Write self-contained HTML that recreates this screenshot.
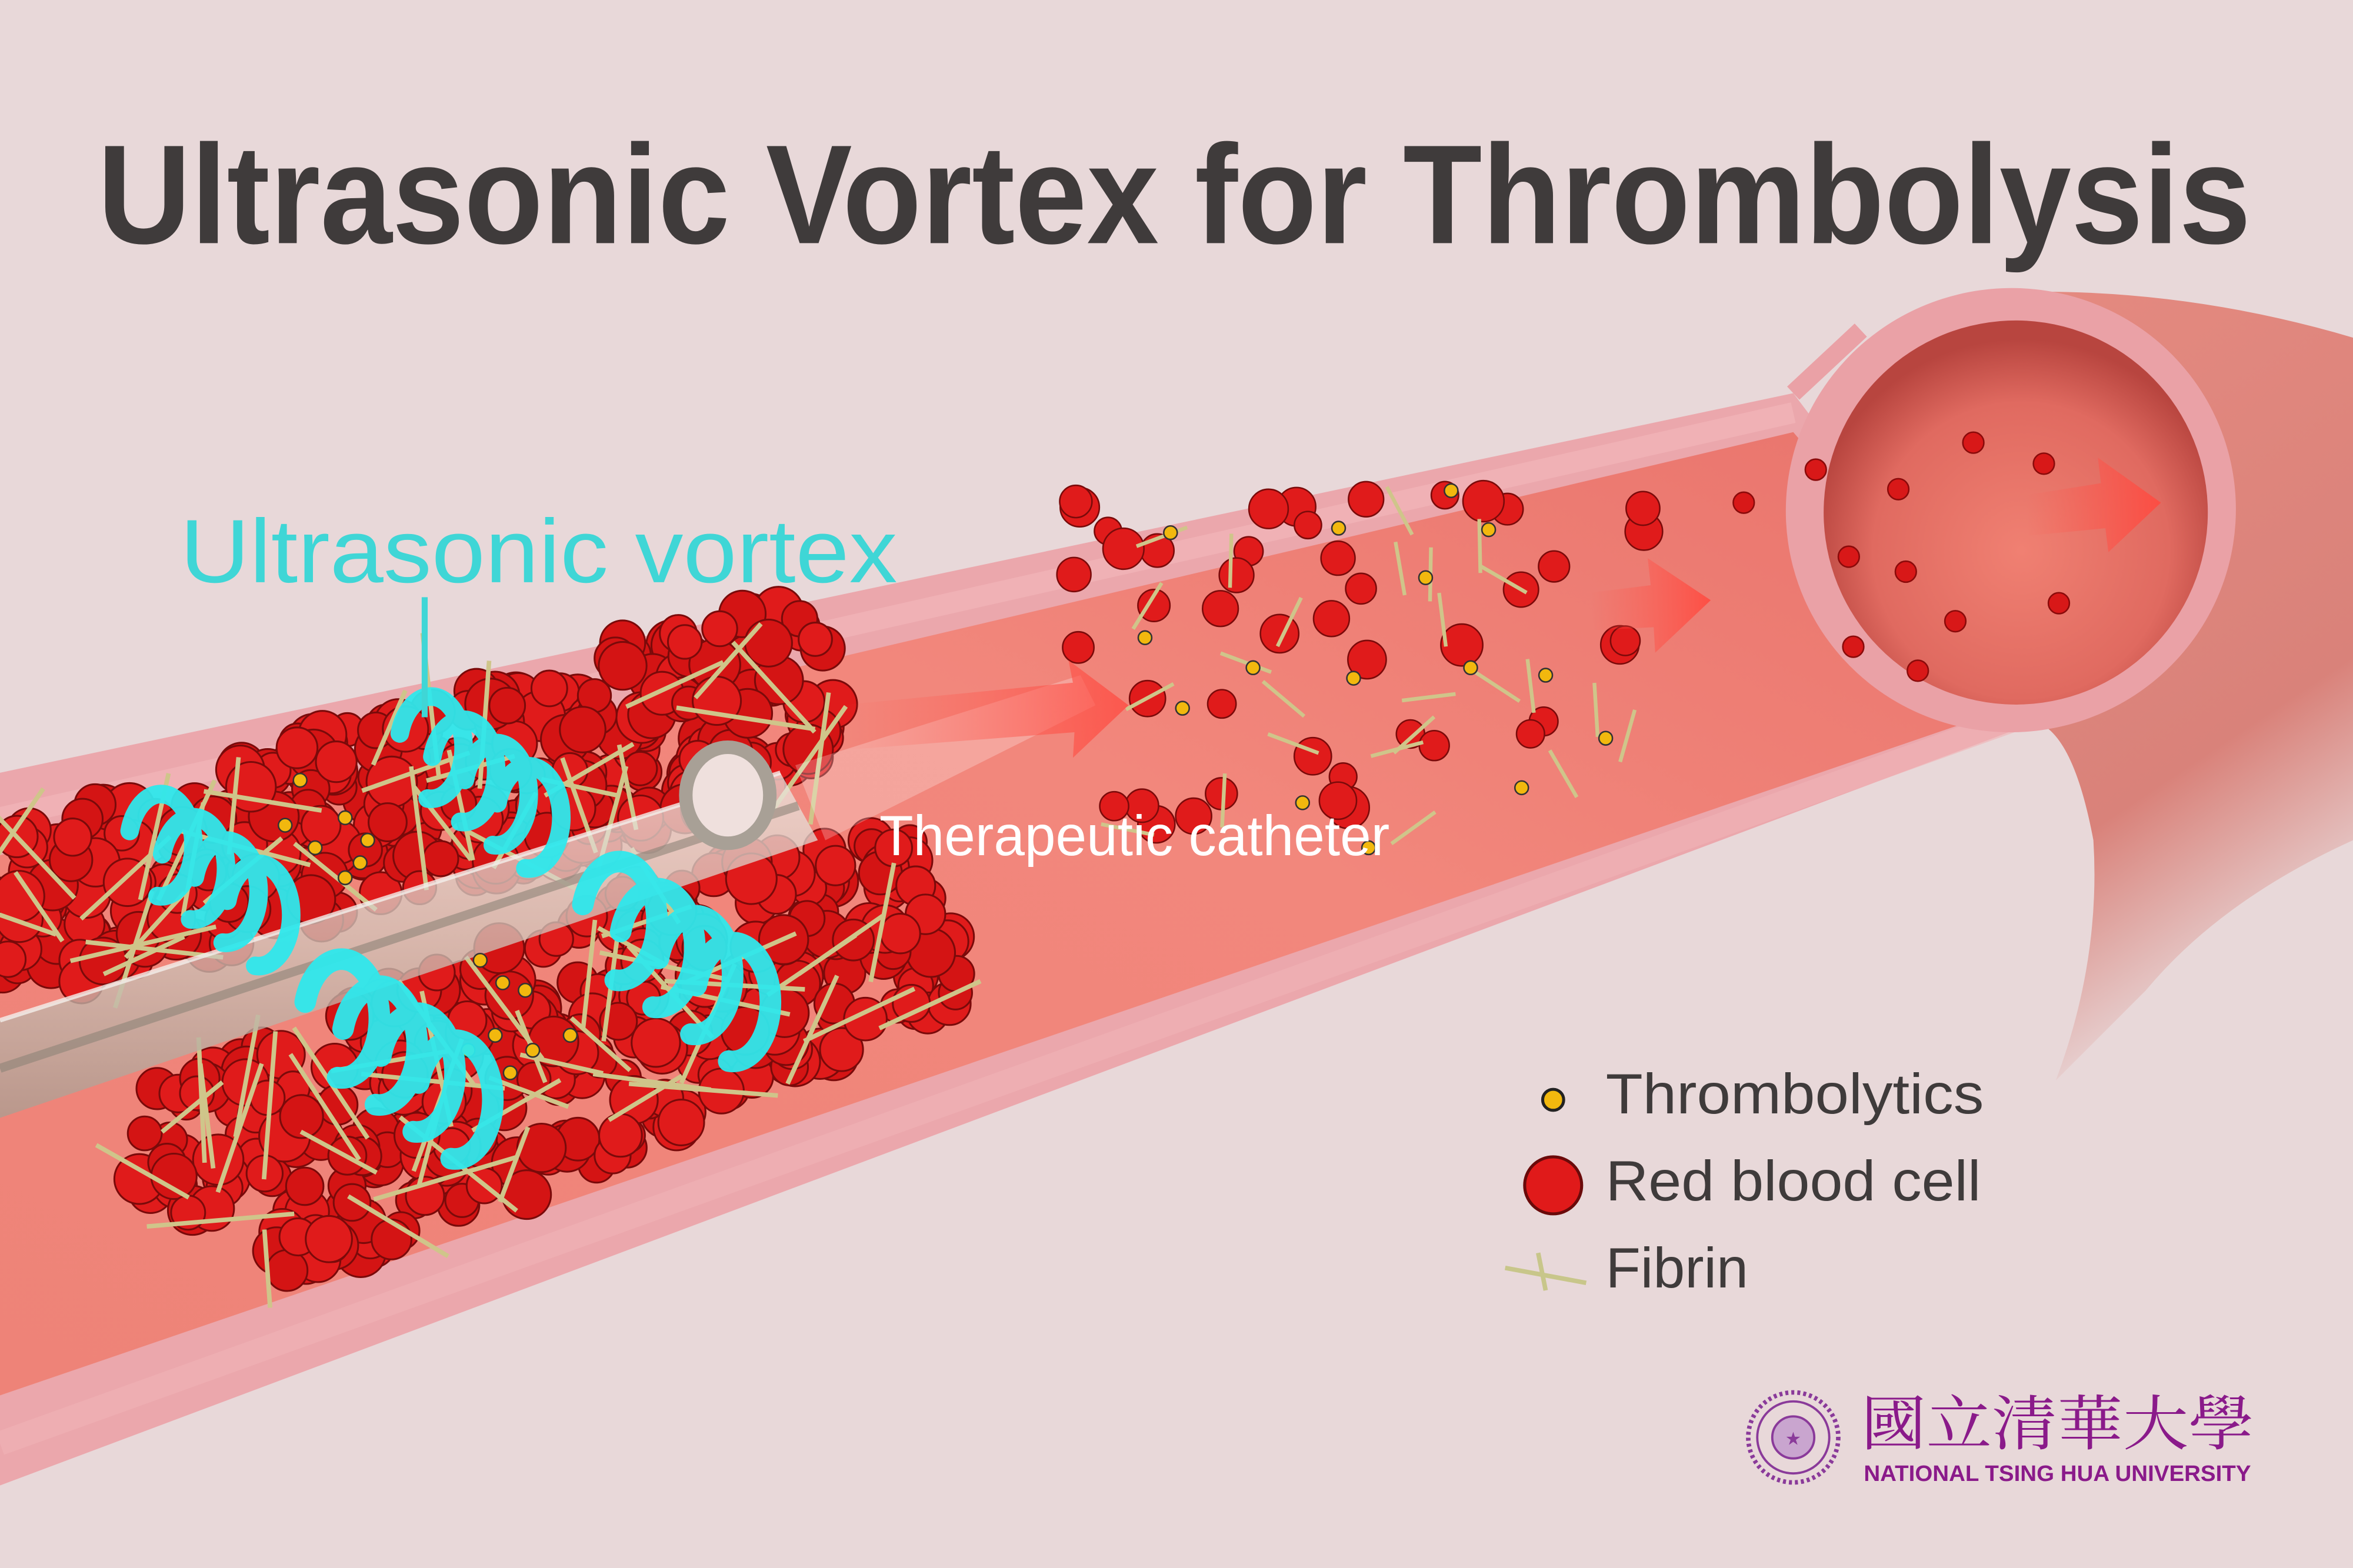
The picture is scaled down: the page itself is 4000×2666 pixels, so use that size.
<!DOCTYPE html>
<html><head><meta charset="utf-8"><style>
html,body{margin:0;padding:0;background:#e8d8d9;}
svg{display:block;}
</style></head><body>
<svg id="s" width="4000" height="2666" viewBox="0 0 1568 1045" xmlns="http://www.w3.org/2000/svg">
<defs>
<linearGradient id="lum" x1="0" y1="1" x2="1" y2="0">
<stop offset="0" stop-color="#ee8378"/><stop offset="0.6" stop-color="#f2877c"/><stop offset="1" stop-color="#e9746c"/>
</linearGradient>
<linearGradient id="bend" x1="0" y1="0" x2="0.3" y2="1">
<stop offset="0" stop-color="#e58a80"/><stop offset="0.7" stop-color="#d9827a"/><stop offset="1" stop-color="#e8d8d9"/>
</linearGradient>
<radialGradient id="hole" cx="0.5" cy="0.6" r="0.55">
<stop offset="0" stop-color="#f08072"/><stop offset="0.7" stop-color="#e06a60"/><stop offset="1" stop-color="#b8453f"/>
</radialGradient>
<linearGradient id="arr" x1="0" y1="0" x2="1" y2="0">
<stop offset="0" stop-color="#ff5b50" stop-opacity="0"/><stop offset="1" stop-color="#ff4a40" stop-opacity="0.9"/>
</linearGradient>
<linearGradient id="cath" x1="0" y1="0" x2="0" y2="1">
<stop offset="0" stop-color="#eee8e2"/><stop offset="0.5" stop-color="#cfc6bb"/><stop offset="1" stop-color="#a89e92"/>
</linearGradient>
</defs>
<rect width="1568" height="1045" fill="#e8d8d9"/>
<!-- bend continuation -->
<path d="M1330,195 Q1450,190 1568,225 L1568,560 Q1480,600 1430,660 L1370,720 Q1400,640 1395,560 Q1380,480 1350,480 Z" fill="url(#bend)"/>
<!-- outer wall -->
<path d="M0,515 L1195,262 L1360,480 L0,990 Z" fill="#eba7ac"/>
<!-- lumen -->
<path d="M0,570 L1195,288 L1350,468 L0,930 Z" fill="url(#lum)"/>
<path d="M0,545 L1195,275" stroke="#f4b9bc" stroke-width="14" opacity="0.6"/>
<path d="M0,962 L1355,475" stroke="#f1b3b6" stroke-width="16" opacity="0.6"/>
<!-- opening ring -->
<ellipse cx="1340" cy="340" rx="150" ry="148" fill="#eaa1a6" transform="rotate(-8 1340 340)"/>
<ellipse cx="1343" cy="342" rx="128" ry="128" fill="url(#hole)" transform="rotate(-8 1340 340)"/>
<path d="M1195,262 L1240,220" stroke="#eaa1a6" stroke-width="12"/>
<g id="content"></g>
<!-- arrows -->
<path d="M560,470 L715,455 L712,440 L752,470 L715,505 L716,488 L560,500 Z" fill="url(#arr)" opacity="0.85"/>
<path d="M1060,395 L1100,390 L1098,372 L1140,400 L1103,435 L1102,418 L1062,420 Z" fill="url(#arr)"/>
<path d="M1350,330 L1400,322 L1398,305 L1440,335 L1405,368 L1403,352 L1352,357 Z" fill="url(#arr)"/>
<!-- title -->
<text x="65" y="162" font-family="Liberation Sans, sans-serif" font-weight="bold" font-size="94" fill="#3f3b3b" textLength="1435" lengthAdjust="spacingAndGlyphs">Ultrasonic Vortex for Thrombolysis</text>
<text x="120" y="388" font-family="Liberation Sans, sans-serif" font-size="60" fill="#3fd6d6" textLength="478" lengthAdjust="spacingAndGlyphs">Ultrasonic vortex</text>
<line x1="283" y1="398" x2="283" y2="478" stroke="#3fd6d6" stroke-width="4"/>
<text x="586" y="570" font-family="Liberation Sans, sans-serif" font-size="38" fill="#fff" textLength="340" lengthAdjust="spacingAndGlyphs">Therapeutic catheter</text>
<!-- legend -->
<circle cx="1035" cy="733" r="7" fill="#f2b80e" stroke="#222" stroke-width="2"/>
<text x="1070" y="742" font-family="Liberation Sans, sans-serif" font-size="38" fill="#3f3b3b" textLength="252" lengthAdjust="spacingAndGlyphs">Thrombolytics</text>
<circle cx="1035" cy="790" r="19" fill="#e01a1a" stroke="#6a0a0a" stroke-width="2"/>
<text x="1070" y="800" font-family="Liberation Sans, sans-serif" font-size="38" fill="#3f3b3b" textLength="250" lengthAdjust="spacingAndGlyphs">Red blood cell</text>
<path d="M1003,845 L1057,855 M1025,835 L1030,860" stroke="#c8c68a" stroke-width="3"/>
<text x="1070" y="858" font-family="Liberation Sans, sans-serif" font-size="38" fill="#3f3b3b">Fibrin</text>
<!-- logo -->
<circle cx="1195" cy="958" r="30" fill="none" stroke="#8a3a9a" stroke-width="3" stroke-dasharray="2 2"/>
<circle cx="1195" cy="958" r="24" fill="none" stroke="#8a3a9a" stroke-width="1.5"/>
<circle cx="1195" cy="958" r="14" fill="#c9a5cf" stroke="#8a3a9a" stroke-width="1.5"/>
<text x="1195" y="963" text-anchor="middle" font-size="12" fill="#8a3a9a">★</text>
<text x="1240" y="963" font-family="Noto Serif CJK SC, serif" font-size="40" fill="#8a1a8a" textLength="262" lengthAdjust="spacingAndGlyphs">國立清華大學</text>
<text x="1242" y="987" font-family="Liberation Sans, sans-serif" font-weight="bold" font-size="15" fill="#8a1a8a" textLength="258" lengthAdjust="spacingAndGlyphs">NATIONAL TSING HUA UNIVERSITY</text>
</svg>
<script>
var g=document.getElementById('content'),NS='http://www.w3.org/2000/svg';
var seed=7;function r(){seed=(seed*16807)%2147483647;return seed/2147483647;}
function el(t,a){var e=document.createElementNS(NS,t);for(var k in a)e.setAttribute(k,a[k]);g.appendChild(e);return e;}
function inPoly(x,y,p){var c=false;for(var i=0,j=p.length-1;i<p.length;j=i++){var xi=p[i][0],yi=p[i][1],xj=p[j][0],yj=p[j][1];if(((yi>y)!=(yj>y))&&(x<(xj-xi)*(y-yi)/(yj-yi)+xi))c=!c;}return c;}
function clot(p,n){var xs=p.map(a=>a[0]),ys=p.map(a=>a[1]);var x0=Math.min(...xs),x1=Math.max(...xs),y0=Math.min(...ys),y1=Math.max(...ys);
var cnt=0;while(cnt<n){var x=x0+r()*(x1-x0),y=y0+r()*(y1-y0);if(!inPoly(x,y,p))continue;cnt++;
el('circle',{cx:x,cy:y,r:11+r()*6,fill:r()<0.5?'#e01b1b':'#d41414',stroke:'#7a0a0a','stroke-width':1.2});}
for(var k=0;k<n/4;k++){var x=x0+r()*(x1-x0),y=y0+r()*(y1-y0);if(!inPoly(x,y,p))continue;var a=r()*3.14,l=25+r()*25;
el('line',{x1:x-Math.cos(a)*l,y1:y-Math.sin(a)*l,x2:x+Math.cos(a)*l,y2:y+Math.sin(a)*l,stroke:'#cfc58a','stroke-width':3});}}
clot([[0,555],[500,402],[550,412],[560,505],[420,560],[0,670]],330);
clot([[90,730],[500,560],[620,560],[645,665],[300,820],[180,850],[90,790]],330);
// catheter (translucent)
el('path',{d:'M0,680 L520,515 L545,560 L0,745 Z',fill:'url(#cath)',opacity:0.75});
el('path',{d:'M0,680 L520,515',stroke:'#f4f0ec','stroke-width':3,opacity:0.8});
el('path',{d:'M0,712 L532,537',stroke:'#8e8478','stroke-width':6,opacity:0.6});
el('ellipse',{cx:485,cy:530,rx:28,ry:32,fill:'#efe0dd',stroke:'#a8a096','stroke-width':9});
el('path',{d:'M530,510 L720,450 L730,470 L550,560 Z',fill:'#fff',opacity:0.25});
[[200,520],[230,545],[245,560],[190,550],[210,565],[240,575],[230,585],[320,640],[335,655],[350,660],[330,690],[355,700],[340,715],[380,690],[312,700]].forEach(function(d){el('circle',{cx:d[0],cy:d[1],r:4.5,fill:'#f2b80e',stroke:'#333','stroke-width':1});});
// vortex spirals
function spiral(cx,cy,n,s){var d='';for(var i=0;i<n;i++){var x=cx+i*s*0.35,y=cy+i*s*0.25;d+='M'+(x-s*0.3)+','+(y-s*0.1)+' a'+(s*0.35)+','+(s*0.55)+' 0 1 1 '+(s*0.3)+','+(s*0.7)+' ';}
el('path',{d:d,fill:'none',stroke:'#2ee8ec','stroke-width':s*0.2,'stroke-linecap':'round',opacity:0.95});}
spiral(105,560,4,62);spiral(285,495,4,62);spiral(225,675,4,72);spiral(410,610,4,72);
for(var k=0;k<70;k++){var x=710+r()*400,y=330+r()*270;var yl=570-(x-700)*0.35;if(y>yl+40||y<yl-260)continue;
el('circle',{cx:x,cy:y,r:9+r()*5,fill:'#e01b1b',stroke:'#7a0a0a','stroke-width':1});}
for(var k=0;k<25;k++){var x=730+r()*370,y=340+r()*220;var a=r()*3.14;el('line',{x1:x-18*Math.cos(a),y1:y-18*Math.sin(a),x2:x+18*Math.cos(a),y2:y+18*Math.sin(a),stroke:'#cfc58a','stroke-width':2.5});}
[[780,355],[892,352],[967,327],[992,353],[950,385],[763,425],[835,445],[902,452],[980,445],[1030,450],[788,472],[868,535],[912,565],[1014,525],[1070,492]].forEach(function(d){el('circle',{cx:d[0],cy:d[1],r:4.5,fill:'#f2b80e',stroke:'#333','stroke-width':1});});
[[1162,335],[1210,313],[1265,326],[1315,295],[1362,309],[1232,371],[1270,381],[1303,414],[1372,402],[1235,431],[1278,447]].forEach(function(d){el('circle',{cx:d[0],cy:d[1],r:7,fill:'#d81818',stroke:'#8a0a0a','stroke-width':1});});
</script>
</body></html>
